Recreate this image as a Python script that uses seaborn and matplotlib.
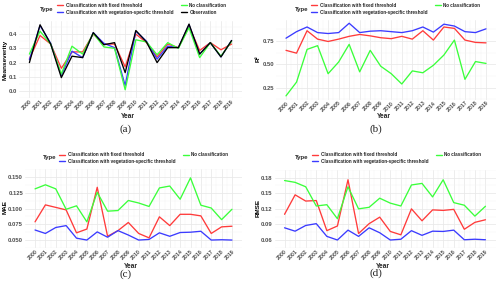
import numpy as np
import pandas as pd
import matplotlib
matplotlib.use("Agg")
import matplotlib.pyplot as plt
import seaborn as sns
from matplotlib.lines import Line2D

# ---------------- data ----------------
years = list(range(2000, 2020))

ms_fixed = [0.226, 0.39, 0.33, 0.16, 0.275, 0.275, 0.40, 0.33, 0.33, 0.17,
            0.40, 0.34, 0.24, 0.33, 0.305, 0.455, 0.285, 0.34, 0.29, 0.33]
ms_veg = [0.22, 0.46, 0.335, 0.11, 0.28, 0.235, 0.41, 0.335, 0.305, 0.04,
          0.42, 0.35, 0.225, 0.315, 0.305, 0.465, 0.26, 0.34, 0.24, 0.355]
ms_none = [0.26, 0.42, 0.33, 0.12, 0.315, 0.26, 0.405, 0.31, 0.30, 0.01,
           0.36, 0.345, 0.255, 0.34, 0.30, 0.445, 0.235, 0.34, 0.245, 0.35]
ms_obs = [0.20, 0.465, 0.33, 0.095, 0.245, 0.235, 0.41, 0.325, 0.34, 0.13,
          0.425, 0.345, 0.20, 0.305, 0.305, 0.47, 0.26, 0.34, 0.24, 0.355]

r2_fixed = [0.65, 0.62, 0.86, 0.77, 0.745, 0.77, 0.80, 0.82, 0.805, 0.785,
            0.775, 0.80, 0.77, 0.86, 0.76, 0.90, 0.885, 0.76, 0.735, 0.73]
r2_veg = [0.78, 0.85, 0.90, 0.84, 0.83, 0.84, 0.94, 0.84, 0.855, 0.86,
          0.85, 0.84, 0.86, 0.90, 0.845, 0.93, 0.91, 0.85, 0.84, 0.88]
r2_none = [0.163, 0.31, 0.66, 0.70, 0.40, 0.525, 0.714, 0.42, 0.65, 0.48,
           0.40, 0.29, 0.43, 0.41, 0.49, 0.60, 0.76, 0.34, 0.53, 0.51]

mae_fixed = [0.079, 0.106, 0.102, 0.098, 0.0615, 0.0675, 0.134, 0.056, 0.065, 0.078,
             0.0605, 0.0535, 0.087, 0.073, 0.091, 0.091, 0.0885, 0.0605, 0.071, 0.072]
mae_veg = [0.066, 0.0605, 0.070, 0.073, 0.053, 0.050, 0.063, 0.0545, 0.065, 0.058,
           0.050, 0.051, 0.0615, 0.056, 0.062, 0.0625, 0.064, 0.050, 0.0505, 0.050]
mae_none = [0.1315, 0.138, 0.1315, 0.099, 0.1045, 0.079, 0.126, 0.096, 0.097, 0.113,
            0.109, 0.1035, 0.133, 0.136, 0.115, 0.149, 0.1055, 0.101, 0.0825, 0.099]

rmse_fixed = [0.1095, 0.147, 0.135, 0.136, 0.078, 0.087, 0.176, 0.0725, 0.0915, 0.104,
              0.0765, 0.070, 0.120, 0.097, 0.118, 0.117, 0.119, 0.0807, 0.094, 0.099]
rmse_veg = [0.0835, 0.077, 0.088, 0.0915, 0.067, 0.060, 0.079, 0.067, 0.0835, 0.074,
            0.060, 0.0615, 0.078, 0.069, 0.077, 0.0765, 0.079, 0.0605, 0.0615, 0.0605]
rmse_none = [0.1745, 0.171, 0.1625, 0.1255, 0.128, 0.101, 0.1625, 0.12, 0.123, 0.1405,
             0.131, 0.1255, 0.166, 0.169, 0.143, 0.176, 0.132, 0.127, 0.106, 0.125]

T_FIXED = "Classification with fixed threshold"
T_VEG = "Classification with vegetation-specific threshold"
T_NONE = "No classification"
T_OBS = "Observation"

palette = {T_FIXED: "#ff3b3b", T_VEG: "#3b3bff", T_NONE: "#3bff3b", T_OBS: "#000000"}

# ---------------- style ----------------
sns.set_theme(style="white")
plt.rcParams['font.family'] = ['Liberation Sans', 'DejaVu Sans']

W, H = 500, 288
fig = plt.figure(figsize=(5.0, 2.88), dpi=100)
fig.patch.set_facecolor("white")


def px_rect(left, top, right, bottom):
    return [left / W, 1 - bottom / H, (right - left) / W, (bottom - top) / H]


def long_df(series):
    rows = []
    for name, vals in series:
        for y, v in zip(years, vals):
            rows.append({"Year": y, "value": v, "Type": name})
    return pd.DataFrame(rows)


panels = [
    dict(series=[(T_FIXED, ms_fixed), (T_VEG, ms_veg), (T_NONE, ms_none), (T_OBS, ms_obs)],
         rect=(19.3, 20.8, 241.7, 98.3), ylim=(-0.013, 0.493),
         yticks=[0.0, 0.1, 0.2, 0.3, 0.4], fmt="{:.1f}", ylabel="Meanseverity",
         ylabel_xy=(5, 60), year_xy=(128, 117), cap="(a)", cap_xy=(126, 129),
         type_xy=(40, 9), leg_xy=(57, 8.7)),
    dict(series=[(T_FIXED, r2_fixed), (T_VEG, r2_veg), (T_NONE, r2_none)],
         rect=(276, 19.6, 496, 99.5), ylim=(0.124, 0.979),
         yticks=[0.25, 0.50, 0.75], fmt="{:.2f}", ylabel="R²",
         ylabel_xy=(258, 59), year_xy=(384, 117), cap="(b)", cap_xy=(376, 129),
         type_xy=(295, 9), leg_xy=(311, 8.7)),
    dict(series=[(T_FIXED, mae_fixed), (T_VEG, mae_veg), (T_NONE, mae_none)],
         rect=(25.2, 169.4, 241.8, 247.9), ylim=(0.045, 0.154),
         yticks=[0.050, 0.075, 0.100, 0.125, 0.150], fmt="{:.3f}", ylabel="MAE",
         ylabel_xy=(5, 207), year_xy=(131, 266), cap="(c)", cap_xy=(126, 274),
         type_xy=(43, 158), leg_xy=(59, 158)),
    dict(series=[(T_FIXED, rmse_fixed), (T_VEG, rmse_veg), (T_NONE, rmse_none)],
         rect=(274.5, 169.9, 495.5, 247.8), ylim=(0.0542, 0.1818),
         yticks=[0.06, 0.09, 0.12, 0.15, 0.18], fmt="{:.2f}", ylabel="RMSE",
         ylabel_xy=(258, 208), year_xy=(383, 266), cap="(d)", cap_xy=(376, 273),
         type_xy=(295, 158), leg_xy=(312, 158)),
]

tick_color = "#4d4d4d"
for p in panels:
    ax = fig.add_axes(px_rect(*p["rect"]))
    ax.set_facecolor("white")
    df = long_df(p["series"])
    order = [s[0] for s in p["series"]]
    sns.lineplot(data=df, x="Year", y="value", hue="Type", hue_order=order,
                 palette=palette, linewidth=0.95, legend=False, ax=ax, zorder=3)
    ax.set_xlim(years[0] - 0.95, years[-1] + 0.95)
    ax.set_ylim(*p["ylim"])
    ax.set_xticks(years)
    ax.set_xticks([y + 0.5 for y in years[:-1]], minor=True)
    yt = p["yticks"]
    step = yt[1] - yt[0]
    ax.set_yticks(yt)
    minors = [yt[0] - step / 2] + [v + step / 2 for v in yt]
    ax.set_yticks(minors, minor=True)
    ax.set_yticklabels([p["fmt"].format(v) for v in yt])
    ax.set_xticklabels([str(y) for y in years], rotation=45, ha="right",
                       rotation_mode="anchor")
    ax.tick_params(axis="y", which="both", length=0, labelsize=4.2,
                   labelcolor=tick_color, pad=1.5)
    ax.tick_params(axis="x", which="both", length=0, labelsize=3.8,
                   labelcolor=tick_color, pad=0.6)
    for lab in ax.get_xticklabels() + ax.get_yticklabels():
        lab.set_fontweight("bold")
    ax.grid(True, which="major", color="#e8e8e8", linewidth=0.55, zorder=0)
    ax.grid(True, which="minor", color="#f3f3f3", linewidth=0.35, zorder=0)
    for s in ax.spines.values():
        s.set_visible(False)
    ax.set_xlabel("")
    ax.set_ylabel("")

    fig.text(p["ylabel_xy"][0] / W, 1 - p["ylabel_xy"][1] / H, p["ylabel"],
             rotation=90, ha="center", va="center", fontsize=4.6,
             fontweight="bold", color="black")
    fig.text(p["year_xy"][0] / W, 1 - p["year_xy"][1] / H, "Year",
             ha="center", va="center", fontsize=4.8, fontweight="bold")
    fig.text(p["cap_xy"][0] / W, 1 - p["cap_xy"][1] / H, p["cap"],
             ha="center", va="center", fontsize=8,
             family=["Liberation Serif", "DejaVu Serif"])
    fig.text(p["type_xy"][0] / W, 1 - p["type_xy"][1] / H, "Type",
             ha="left", va="center", fontsize=4.4, fontweight="bold")
    handles = [Line2D([0], [0], color=palette[n], lw=1.0) for n in order]
    fig.legend(handles, order, loc="center left",
               bbox_to_anchor=(p["leg_xy"][0] / W, 1 - p["leg_xy"][1] / H),
               ncol=2, frameon=False, handlelength=1.4,
               handletextpad=0.5, borderpad=0, borderaxespad=0,
               labelspacing=0.35, columnspacing=1.6,
               prop={"weight": "bold", "size": 3.3})

fig.savefig("out.png", dpi=100, facecolor="white")
